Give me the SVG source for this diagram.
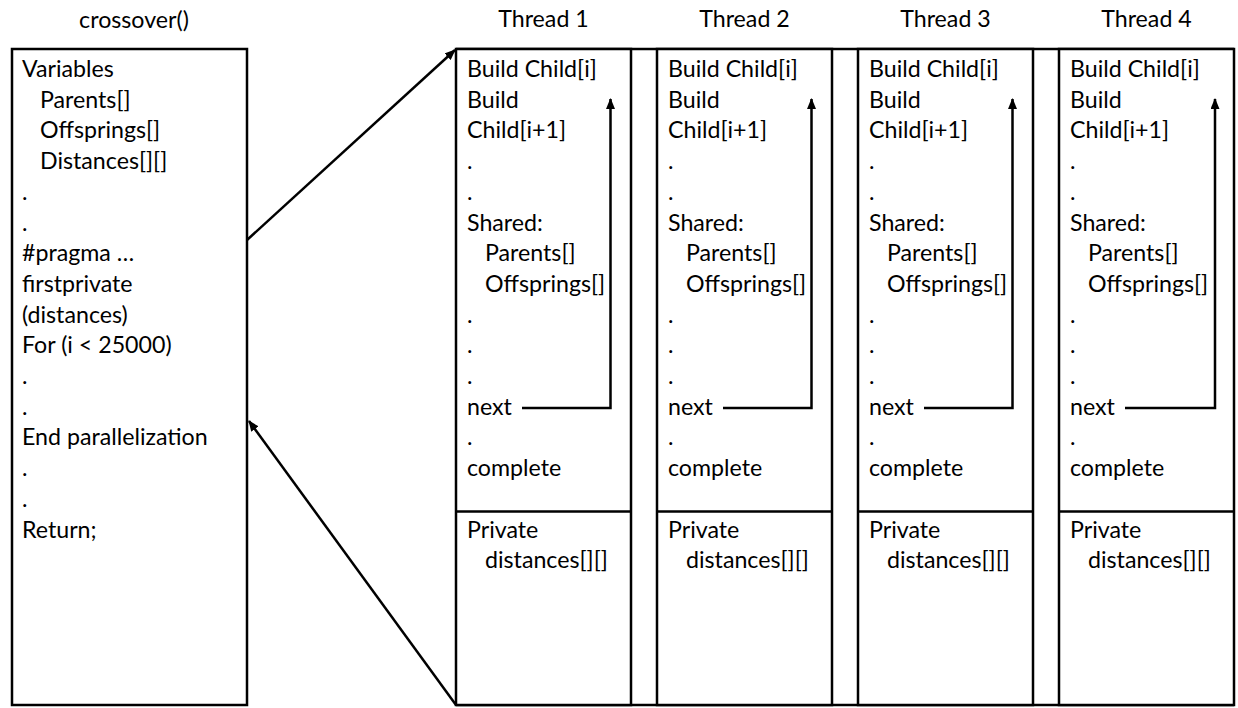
<svg xmlns="http://www.w3.org/2000/svg" width="1238" height="708" viewBox="0 0 1238 708">
<style>
text{font-family:Lato,"Open Sans","Liberation Sans",sans-serif;font-size:23.2px;fill:#000}
.t{text-anchor:middle}
.box{fill:#fff;stroke:#000;stroke-width:2.5}
.ln{stroke:#000;stroke-width:2.5;fill:none}
</style>
<defs>
<marker id="ah" markerWidth="11" markerHeight="9" refX="10" refY="4.5" orient="auto" markerUnits="userSpaceOnUse"><path d="M0,0 L11,4.5 L0,9 z" fill="#000"/></marker>
</defs>
<rect width="1238" height="708" fill="#fff"/>
<g id="crossover">
<text class="t" x="134" y="28">crossover()</text>
<rect class="box" x="12" y="49" width="235" height="656"/>
<text x="22" y="77">Variables</text>
<text x="40" y="107.7">Parents[]</text>
<text x="40" y="138.4">Offsprings[]</text>
<text x="40" y="169.1">Distances[][]</text>
<text x="22" y="199.8">.</text>
<text x="22" y="230.5">.</text>
<text x="22" y="261.2">#pragma …</text>
<text x="22" y="291.9">firstprivate</text>
<text x="22" y="322.6">(distances)</text>
<text x="22" y="353.3">For (i &lt; 25000)</text>
<text x="22" y="384">.</text>
<text x="22" y="414.7">.</text>
<text x="22" y="445.4">End parallelization</text>
<text x="22" y="476.1">.</text>
<text x="22" y="506.8">.</text>
<text x="22" y="537.5">Return;</text>
</g>
<g id="frame">
<line class="ln" x1="456" y1="49" x2="1234" y2="49"/>
<line class="ln" x1="456" y1="705" x2="1234" y2="705"/>
</g>
<g id="thread1" transform="translate(456,0)">
<text class="t" x="87.5" y="27">Thread 1</text>
<rect class="box" x="0" y="49" width="175" height="656"/>
<line class="ln" x1="0" y1="511.5" x2="175" y2="511.5"/>
<text x="11" y="77">Build Child[i]</text>
<text x="11" y="107.7">Build</text>
<text x="11" y="138.4">Child[i+1]</text>
<text x="11" y="169.1">.</text>
<text x="11" y="199.8">.</text>
<text x="11" y="230.5">Shared:</text>
<text x="29" y="261.2">Parents[]</text>
<text x="29" y="291.9">Offsprings[]</text>
<text x="11" y="322.6">.</text>
<text x="11" y="353.3">.</text>
<text x="11" y="384">.</text>
<text x="11" y="414.7">next</text>
<text x="11" y="445.4">.</text>
<text x="11" y="476.1">complete</text>
<text x="11" y="537.5">Private</text>
<text x="29" y="568.2">distances[][]</text>
<path class="ln" d="M66,408 H154.5 V99" marker-end="url(#ah)"/>
</g>
<g id="thread2" transform="translate(657,0)">
<text class="t" x="87.5" y="27">Thread 2</text>
<rect class="box" x="0" y="49" width="175" height="656"/>
<line class="ln" x1="0" y1="511.5" x2="175" y2="511.5"/>
<text x="11" y="77">Build Child[i]</text>
<text x="11" y="107.7">Build</text>
<text x="11" y="138.4">Child[i+1]</text>
<text x="11" y="169.1">.</text>
<text x="11" y="199.8">.</text>
<text x="11" y="230.5">Shared:</text>
<text x="29" y="261.2">Parents[]</text>
<text x="29" y="291.9">Offsprings[]</text>
<text x="11" y="322.6">.</text>
<text x="11" y="353.3">.</text>
<text x="11" y="384">.</text>
<text x="11" y="414.7">next</text>
<text x="11" y="445.4">.</text>
<text x="11" y="476.1">complete</text>
<text x="11" y="537.5">Private</text>
<text x="29" y="568.2">distances[][]</text>
<path class="ln" d="M66,408 H154.5 V99" marker-end="url(#ah)"/>
</g>
<g id="thread3" transform="translate(858,0)">
<text class="t" x="87.5" y="27">Thread 3</text>
<rect class="box" x="0" y="49" width="175" height="656"/>
<line class="ln" x1="0" y1="511.5" x2="175" y2="511.5"/>
<text x="11" y="77">Build Child[i]</text>
<text x="11" y="107.7">Build</text>
<text x="11" y="138.4">Child[i+1]</text>
<text x="11" y="169.1">.</text>
<text x="11" y="199.8">.</text>
<text x="11" y="230.5">Shared:</text>
<text x="29" y="261.2">Parents[]</text>
<text x="29" y="291.9">Offsprings[]</text>
<text x="11" y="322.6">.</text>
<text x="11" y="353.3">.</text>
<text x="11" y="384">.</text>
<text x="11" y="414.7">next</text>
<text x="11" y="445.4">.</text>
<text x="11" y="476.1">complete</text>
<text x="11" y="537.5">Private</text>
<text x="29" y="568.2">distances[][]</text>
<path class="ln" d="M66,408 H154.5 V99" marker-end="url(#ah)"/>
</g>
<g id="thread4" transform="translate(1059,0)">
<text class="t" x="87.5" y="27">Thread 4</text>
<rect class="box" x="0" y="49" width="175" height="656"/>
<line class="ln" x1="0" y1="511.5" x2="175" y2="511.5"/>
<text x="11" y="77">Build Child[i]</text>
<text x="11" y="107.7">Build</text>
<text x="11" y="138.4">Child[i+1]</text>
<text x="11" y="169.1">.</text>
<text x="11" y="199.8">.</text>
<text x="11" y="230.5">Shared:</text>
<text x="29" y="261.2">Parents[]</text>
<text x="29" y="291.9">Offsprings[]</text>
<text x="11" y="322.6">.</text>
<text x="11" y="353.3">.</text>
<text x="11" y="384">.</text>
<text x="11" y="414.7">next</text>
<text x="11" y="445.4">.</text>
<text x="11" y="476.1">complete</text>
<text x="11" y="537.5">Private</text>
<text x="29" y="568.2">distances[][]</text>
<path class="ln" d="M66,408 H156 V99" marker-end="url(#ah)"/>
</g>
<g id="connectors">
<line class="ln" x1="247" y1="240" x2="455" y2="50" marker-end="url(#ah)"/>
<line class="ln" x1="456" y1="705" x2="249" y2="421" marker-end="url(#ah)"/>
</g>
</svg>
